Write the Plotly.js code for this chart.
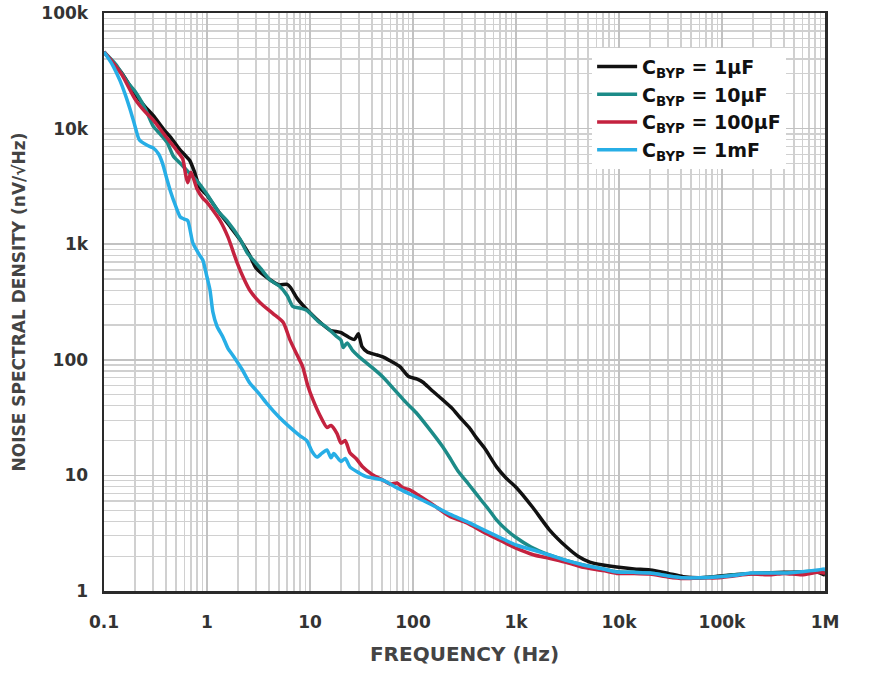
<!DOCTYPE html>
<html>
<head>
<meta charset="utf-8">
<script src="https://cdn.plot.ly/plotly-3.0.1.min.js"></script>
<style>html,body{margin:0;padding:0;background:#fff;}#chart{width:888px;height:676px;}</style>
</head>
<body>
<div id="chart"></div>
<script>
// Frequency (Hz) and noise (nV/√Hz) for each bypass capacitor
const freq1uF = [0.1,0.12,0.15,0.2,0.25,0.3,0.4,0.44,0.55,0.6,0.68,0.75,0.85,1.0,1.3,1.7,2.1,2.6,3.0,4.0,5.0,6.0,6.5,7.5,10,13,15.7,20,24,27,29.5,32,36,45,51,60,75,90,110,125,150,195,240,283,350,415,500,650,800,1000,1450,2100,3100,4000,5200,7000,9500,14000,20000,30000,42000,60000,90000,130000,190000,300000,400000,600000,850000,1000000];
const val1uF  = [46000,38000,30000,20000,15500,13000,9300,8500,6500,6000,5300,4300,3100,2650,1900,1400,1090,800,620,500,445,450,420,340,255,205,180,172,156,150,168,130,117,110,106,98,87,72,68,64,55,45,38,32,26,21,17,11.8,9.5,7.9,5.3,3.4,2.4,2.0,1.78,1.68,1.61,1.55,1.52,1.42,1.33,1.3,1.34,1.38,1.42,1.44,1.45,1.46,1.45,1.37];

const freq10uF = [0.1,0.13,0.17,0.2,0.25,0.3,0.35,0.41,0.47,0.55,0.68,0.85,1.0,1.3,1.56,2.1,2.46,3.3,4.1,5.1,6.0,6.8,8.0,9.3,12,14.6,18,20,21,23,26,30,40,51,70,85,107,140,195,230,270,350,460,550,650,800,1000,1400,2100,3000,4500,7000,9500,14000,20000,30000,42000,60000,90000,130000,190000,300000,400000,600000,850000,1000000];
const val10uF  = [46000,36000,25000,21000,15000,10500,9000,7600,5800,5000,4100,3300,2700,1900,1600,1100,840,620,490,430,360,290,280,268,215,190,160,148,128,140,120,106,86,71,52,43,35,26,17.6,14,11.1,8.3,6.1,5.0,4.1,3.4,2.9,2.4,2.05,1.85,1.68,1.55,1.47,1.45,1.43,1.35,1.3,1.3,1.33,1.38,1.42,1.43,1.43,1.46,1.5,1.45];

const freq100uF = [0.1,0.12,0.15,0.2,0.25,0.3,0.4,0.5,0.58,0.62,0.65,0.7,0.8,0.91,1.0,1.34,1.6,1.95,2.24,2.6,3.3,4.4,5.5,6.4,7.5,8.5,9.5,10.7,12.5,14.6,16,18.3,20,22,24.5,28,32.6,40,51,60,70,80,93,120,160,230,330,480,700,1000,1500,2100,3000,4500,7000,9500,14000,20000,30000,42000,60000,90000,130000,190000,300000,400000,600000,850000,1000000];
const val100uF  = [46000,38000,29000,18000,14000,11900,8500,6600,5500,4000,3400,4200,3000,2500,2300,1600,1150,700,520,400,310,250,210,148,110,87,60,45,33,26,27,23,19,20,15.6,14,11.8,10.2,9.1,8.4,8.6,7.8,7.5,6.5,5.5,4.4,3.9,3.25,2.75,2.35,2.05,1.92,1.78,1.6,1.5,1.42,1.42,1.4,1.32,1.28,1.3,1.3,1.35,1.4,1.38,1.42,1.38,1.45,1.42];

const freq1mF = [0.1,0.12,0.143,0.16,0.18,0.2,0.22,0.26,0.3,0.34,0.37,0.41,0.44,0.5,0.55,0.6,0.65,0.73,0.85,0.91,1.0,1.07,1.14,1.25,1.43,1.6,1.8,2.2,2.6,3.2,3.8,5.0,6.4,8.0,9.3,10.5,11.7,13,14.6,16,17,18.3,20,22,24.5,30,35.8,43,51,70,107,150,230,330,480,700,1000,1500,2100,3000,4500,7000,9500,14000,20000,30000,42000,60000,90000,130000,190000,300000,400000,600000,850000,1000000];
const val1mF  = [46000,36000,26000,20000,14500,10500,8000,7200,6800,6000,5000,3600,2900,2100,1720,1650,1600,1020,800,730,520,400,260,195,157,125,108,82,63,51,42,32,26,22,20,16,14.4,15.5,16.6,14.2,15.5,14.4,13.2,14,11.8,10.5,9.7,9.4,9.1,7.8,6.5,5.6,4.6,4.0,3.4,2.9,2.5,2.25,2.05,1.85,1.68,1.55,1.46,1.45,1.43,1.35,1.3,1.3,1.32,1.36,1.43,1.43,1.43,1.47,1.52,1.55];

const seriesNames = ["C<sub>BYP</sub> = 1µF","C<sub>BYP</sub> = 10µF","C<sub>BYP</sub> = 100µF","C<sub>BYP</sub> = 1mF"];
const seriesColors = ["#111111","#1c8b88","#c4223f","#27aee6"];

const xTickVals = [0.1,1,10,100,1000,10000,100000,1000000];
const xTickText = ["0.1","1","10","100","1k","10k","100k","1M"];
const yTickVals = [1,10,100,1000,10000,100000];
const yTickText = ["1","10","100","1k","10k","100k"];

const xs = [freq1uF,freq10uF,freq100uF,freq1mF];
const ys = [val1uF,val10uF,val100uF,val1mF];

const traces = xs.map((x,i)=>({
  x:x, y:ys[i], type:'scatter', mode:'lines', name:seriesNames[i],
  line:{color:seriesColors[i], width:3.5, shape:'spline', smoothing:0.6}
}));

const fam = '"DejaVu Sans", "Liberation Sans", Arial, sans-serif';

const layout = {
  width:888, height:676,
  margin:{l:104, r:63, t:13, b:85},
  paper_bgcolor:'#fff', plot_bgcolor:'#fff',
  showlegend:true,
  legend:{x:0.677, y:0.94, xanchor:'left', yanchor:'top',
    bgcolor:'#ffffff', borderwidth:0,
    font:{family:fam, weight:700, size:19, color:'#111'},
    tracegroupgap:0, itemwidth:40},
  xaxis:{type:'log', range:[-1,6], tickvals:xTickVals, ticktext:xTickText,
    showline:true, mirror:true, linecolor:'#2a2a2a', linewidth:2.5,
    showgrid:true, gridcolor:'#c2c2c2', gridwidth:1.5,
    minor:{dtick:'D1', showgrid:true, gridcolor:'#d0d0d0', gridwidth:1.3},
    ticks:'', ticklabelstandoff:14,
    tickfont:{family:fam, weight:700, size:17, color:'#333'},
    title:{text:'FREQUENCY (Hz)', font:{family:fam, weight:700, size:20, color:'#444'}, standoff:16},
    zeroline:false},
  yaxis:{type:'log', range:[0,5], tickvals:yTickVals, ticktext:yTickText,
    showline:true, mirror:true, linecolor:'#2a2a2a', linewidth:2.5,
    showgrid:true, gridcolor:'#c2c2c2', gridwidth:1.5,
    minor:{dtick:'D1', showgrid:true, gridcolor:'#d0d0d0', gridwidth:1.3},
    ticks:'', ticklabelstandoff:10,
    tickfont:{family:fam, weight:700, size:17, color:'#333'},
    title:{text:'NOISE SPECTRAL DENSITY (nV/√Hz)', font:{family:fam, weight:700, size:17, color:'#444'}, standoff:12},
    zeroline:false}
};

Plotly.newPlot('chart', traces, layout, {displayModeBar:false, staticPlot:true});
</script>
</body>
</html>
